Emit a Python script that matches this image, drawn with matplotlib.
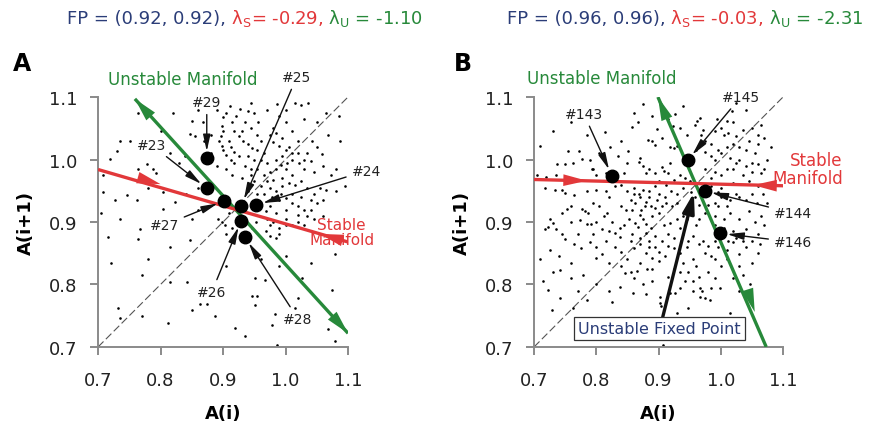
import matplotlib
matplotlib.use("Agg")
import matplotlib.pyplot as plt
import numpy as np

NAVY = "#2b3d78"
RED = "#e2383a"
GREEN = "#27893a"

# ---- panel A data -------------------------------------------------------
a_cloud = [
    (0.764, 1.074), (0.730, 1.014), (0.751, 1.030), (0.735, 1.030), (0.719, 1.001),
    (0.764, 0.985), (0.778, 0.993), (0.788, 0.985), (0.792, 0.978), (0.850, 1.062),
    (0.847, 1.041), (0.855, 1.038), (0.839, 1.006), (0.800, 1.045), (0.820, 1.075),
    (0.708, 0.975),
    (0.911, 1.086), (0.900, 1.068), (0.927, 1.081), (0.940, 1.078), (0.950, 1.074),
    (0.956, 1.060), (0.898, 1.054), (0.900, 1.046), (0.896, 1.038), (0.894, 1.030),
    (0.898, 1.022), (0.900, 1.016), (0.905, 1.008), (0.912, 1.000), (0.918, 0.994),
    (0.930, 1.046), (0.932, 1.030), (0.940, 1.025), (0.946, 1.018), (0.910, 1.030),
    (0.913, 1.020), (0.918, 1.012), (0.925, 1.005), (0.935, 0.990), (0.945, 0.985),
    (0.905, 0.985), (0.890, 0.990), (0.915, 0.975), (0.930, 0.970), (0.950, 0.965),
    (0.880, 1.040), (0.870, 1.030),
    (0.986, 1.089), (1.015, 1.090), (1.025, 1.088), (1.036, 1.090), (0.980, 1.050),
    (0.975, 1.040), (0.985, 1.042), (0.980, 1.028), (0.995, 1.035), (0.990, 1.022),
    (1.000, 1.015), (1.005, 1.020), (0.995, 1.005), (0.985, 1.000), (1.010, 1.000),
    (1.020, 1.010), (1.020, 1.030), (1.030, 1.000), (1.040, 0.998), (1.030, 0.985),
    (1.045, 0.980), (1.000, 0.985), (0.975, 0.980), (0.965, 0.975), (0.980, 0.968),
    (0.995, 0.970), (1.010, 0.975), (1.068, 1.040), (1.087, 1.030), (1.058, 1.009),
    (1.050, 1.060), (1.065, 1.075), (0.960, 1.000), (0.965, 1.010), (0.970, 0.995),
    (1.015, 0.960), (0.955, 0.985),
    (0.975, 0.955), (0.985, 0.950), (0.993, 0.945), (0.978, 0.940), (0.990, 0.935),
    (1.000, 0.938), (1.010, 0.930), (1.020, 0.925), (1.030, 0.920), (1.000, 0.920),
    (0.985, 0.915), (1.020, 0.912), (0.970, 0.905), (0.975, 0.895), (0.990, 0.890),
    (1.000, 0.895), (1.040, 0.920), (1.050, 0.930), (1.055, 0.955), (1.065, 0.952),
    (1.080, 0.950), (1.095, 0.958), (1.045, 0.905), (0.968, 0.885), (0.975, 0.878),
    (0.985, 0.875), (0.990, 0.880), (1.060, 0.910), (1.079, 0.849), (1.030, 0.895),
    (0.960, 0.930), (0.965, 0.945),
    (0.892, 0.905), (0.898, 0.900), (0.903, 0.895), (0.910, 0.915), (0.945, 0.960),
    (0.940, 0.950), (0.955, 0.945), (0.952, 0.900), (0.947, 0.890), (0.915, 0.890),
    (0.905, 0.880),
    (0.708, 0.948), (0.727, 0.935), (0.746, 0.943), (0.762, 0.935), (0.804, 0.948),
    (0.823, 0.932), (0.804, 0.921), (0.767, 0.889), (0.764, 0.873), (0.716, 0.876),
    (0.815, 0.860), (0.847, 0.871), (0.780, 0.841), (0.850, 0.905), (0.860, 0.920),
    (0.735, 0.905), (0.705, 0.915),
    (0.732, 0.762), (0.735, 0.746), (0.770, 0.750), (0.812, 0.738), (0.815, 0.804),
    (0.842, 0.804), (0.850, 0.759), (0.863, 0.769), (0.874, 0.769), (0.887, 0.750),
    (0.919, 0.730), (0.935, 0.718), (0.951, 0.810), (0.946, 0.782), (0.954, 0.782),
    (0.951, 0.767), (0.967, 0.807), (0.983, 0.753), (0.978, 0.735), (0.986, 0.703),
    (1.015, 0.762), (1.020, 0.778), (1.026, 0.810), (1.074, 0.791), (1.068, 0.729),
    (1.079, 0.710), (0.990, 0.830), (1.000, 0.845), (1.040, 0.835), (0.960, 0.840),
    (0.905, 0.830), (0.720, 0.835), (0.770, 0.815),
    (0.915, 1.060), (0.905, 1.075), (0.920, 1.070), (0.935, 1.060), (0.945, 1.050),
    (0.955, 1.040), (0.960, 1.030), (0.925, 1.038), (0.918, 1.045), (0.940, 1.005),
    (0.950, 1.000), (0.955, 1.015), (0.945, 0.975), (0.960, 0.958), (0.970, 0.965),
    (0.985, 0.985), (0.992, 0.992), (1.002, 0.995), (1.010, 1.010), (1.022, 0.995),
    (1.035, 1.010), (1.042, 1.030), (1.050, 1.020), (1.010, 1.045), (1.000, 1.060),
    (0.990, 1.070), (1.030, 1.065), (1.060, 0.990), (1.072, 0.975), (1.080, 0.985),
    (1.005, 0.962), (1.025, 0.965), (1.035, 0.955), (1.045, 0.945), (0.995, 0.958),
    (1.010, 0.945), (1.025, 0.940), (1.040, 0.935), (1.060, 0.935), (1.000, 0.905),
    (1.010, 0.895), (1.020, 0.900), (1.035, 0.910), (0.980, 0.900), (0.968, 0.918),
    (0.975, 0.925), (0.880, 1.010), (0.868, 1.060), (0.860, 1.080), (0.890, 1.080),
    (0.945, 1.090), (0.970, 1.080), (1.000, 1.080), (1.085, 1.070), (0.830, 0.995),
    (0.815, 1.010), (0.780, 0.955), (0.860, 0.955), (0.840, 0.945),
]
a_beat_labels = ["#23", "#24", "#25", "#26", "#27", "#28", "#29"]
a_beat_x = [0.874, 0.953, 0.929, 0.929, 0.902, 0.935, 0.874]
a_beat_y = [0.954, 0.927, 0.926, 0.902, 0.934, 0.876, 1.002]
a_label_x = [0.786, 1.129, 1.018, 0.882, 0.806, 1.020, 0.874]
a_label_y = [1.023, 0.982, 1.132, 0.788, 0.895, 0.745, 1.092]
a_unstable_x, a_unstable_y = [0.759, 1.100], [1.097, 0.722]
a_stable_x, a_stable_y = [0.700, 1.100], [0.984, 0.868]

# ---- panel B data -------------------------------------------------------
b_cloud = [
    (0.875, 1.089), (0.867, 1.060), (0.857, 1.052), (0.814, 1.044), (0.897, 1.049),
    (0.926, 1.073), (0.923, 1.054), (0.994, 1.065), (1.010, 1.062), (1.020, 1.060),
    (1.018, 1.078), (0.958, 1.055), (0.962, 1.062), (0.966, 1.066), (1.025, 1.090),
    (1.050, 1.050), (1.060, 1.040), (0.940, 1.085), (0.905, 1.035), (0.883, 1.032),
    (0.890, 1.030), (0.894, 1.024), (0.785, 1.040), (1.040, 1.080),
    (0.710, 1.022), (0.755, 1.014), (0.772, 1.014), (0.777, 1.001), (0.737, 0.993),
    (0.750, 0.993), (0.763, 0.995), (0.793, 0.985), (0.851, 1.014), (0.918, 1.020),
    (0.925, 1.018), (0.930, 1.022), (0.870, 1.002), (0.868, 0.996), (0.875, 0.990),
    (0.885, 0.985), (0.905, 0.988), (0.908, 0.982), (0.915, 0.978), (0.895, 0.978),
    (0.880, 0.978), (0.918, 0.995), (0.945, 0.995), (0.955, 1.000), (0.960, 1.015),
    (0.968, 1.040), (0.972, 1.048), (0.975, 1.012), (0.985, 1.005), (0.990, 1.000),
    (0.995, 1.015), (1.000, 1.010), (1.015, 1.003), (1.025, 0.995), (1.030, 1.000),
    (1.040, 1.015), (1.045, 1.030), (1.055, 1.010), (1.050, 0.995), (1.060, 0.993),
    (1.065, 0.978), (1.070, 0.985), (1.075, 1.000), (1.020, 0.985), (0.990, 0.980),
    (0.975, 0.985), (0.845, 0.978), (0.830, 0.978), (0.815, 0.978), (0.800, 0.975),
    (0.795, 0.985), (0.735, 0.975), (0.720, 0.972), (0.705, 0.975), (0.850, 0.995),
    (0.835, 1.005), (1.080, 1.020), (1.005, 1.040), (1.035, 1.048),
    (0.734, 0.952), (0.745, 0.952), (0.750, 0.946), (0.765, 0.944), (0.785, 0.950),
    (0.800, 0.952), (0.815, 0.950), (0.830, 0.957), (0.840, 0.960), (0.860, 0.955),
    (0.868, 0.945), (0.875, 0.952), (0.885, 0.950), (0.895, 0.958), (0.900, 0.945),
    (0.910, 0.940), (0.920, 0.950), (0.930, 0.945), (0.940, 0.955), (0.950, 0.965),
    (0.985, 0.958), (1.000, 0.955), (1.020, 0.962), (1.045, 0.965), (1.060, 0.958),
    (1.080, 0.962), (1.000, 0.940), (1.015, 0.935), (1.030, 0.940), (1.050, 0.945),
    (0.990, 0.930), (0.855, 0.935), (0.880, 0.932), (0.820, 0.940),
    (0.726, 0.905), (0.730, 0.898), (0.722, 0.892), (0.718, 0.888), (0.735, 0.888),
    (0.753, 0.921), (0.777, 0.921), (0.782, 0.918), (0.787, 0.915), (0.774, 0.903),
    (0.785, 0.897), (0.792, 0.897), (0.812, 0.910), (0.818, 0.915), (0.840, 0.925),
    (0.845, 0.895), (0.838, 0.890), (0.830, 0.882), (0.838, 0.876), (0.820, 0.885),
    (0.810, 0.888), (0.862, 0.930), (0.858, 0.920), (0.872, 0.920), (0.870, 0.912),
    (0.878, 0.925), (0.888, 0.925), (0.895, 0.922), (0.900, 0.915), (0.890, 0.910),
    (0.875, 0.905), (0.880, 0.896), (0.888, 0.890), (0.862, 0.898), (0.867, 0.892),
    (0.880, 0.882), (0.895, 0.878), (0.908, 0.895), (0.918, 0.898), (0.930, 0.905),
    (0.940, 0.910), (0.935, 0.890), (0.945, 0.905), (0.965, 0.928), (0.980, 0.928),
    (0.995, 0.925), (1.010, 0.925), (0.975, 0.915), (0.990, 0.910), (1.005, 0.905),
    (1.015, 0.915), (1.030, 0.905), (1.045, 0.918), (1.055, 0.900), (1.065, 0.910),
    (0.990, 0.895), (1.005, 0.890), (1.020, 0.885), (1.040, 0.888), (1.060, 0.880),
    (0.750, 0.872), (0.765, 0.865), (0.775, 0.858), (0.790, 0.868), (0.800, 0.860),
    (0.815, 0.870), (0.830, 0.860), (0.840, 0.852), (0.855, 0.870), (0.860, 0.858),
    (0.870, 0.865), (0.885, 0.870), (0.895, 0.860), (0.905, 0.870), (0.915, 0.862),
    (0.925, 0.858), (0.880, 0.850), (0.890, 0.842), (0.900, 0.838), (0.910, 0.845),
    (0.935, 0.850), (0.945, 0.860), (0.955, 0.840), (0.965, 0.865), (0.975, 0.850),
    (0.985, 0.845), (0.995, 0.860), (1.010, 0.855), (1.020, 0.868), (1.030, 0.848),
    (1.040, 0.860), (1.050, 0.835), (0.800, 0.842), (0.820, 0.835), (0.760, 0.835),
    (0.740, 0.845), (0.710, 0.840), (0.725, 0.855),
    (0.742, 0.823), (0.779, 0.815), (0.722, 0.791), (0.742, 0.778), (0.729, 0.759),
    (0.763, 0.762), (0.825, 0.772), (0.838, 0.796), (0.846, 0.818), (0.855, 0.820),
    (0.866, 0.822), (0.881, 0.825), (0.859, 0.786), (0.902, 0.780), (0.902, 0.770),
    (0.904, 0.765), (0.918, 0.786), (0.926, 0.786), (0.935, 0.820), (0.948, 0.820),
    (0.943, 0.805), (0.955, 0.805), (0.965, 0.812), (0.967, 0.795), (0.970, 0.790),
    (0.967, 0.780), (0.975, 0.778), (0.983, 0.775), (0.990, 0.810), (0.980, 0.820),
    (0.930, 0.754), (0.947, 0.762), (1.015, 0.754), (0.999, 0.794), (1.047, 0.800),
    (1.047, 0.790), (1.047, 0.780), (0.907, 0.703), (0.800, 0.800), (0.770, 0.790),
    (1.000, 0.830), (1.020, 0.810),
    (0.900, 0.965), (0.912, 0.960), (0.925, 0.968), (0.935, 0.975), (0.943, 0.970),
    (0.952, 0.948), (0.958, 0.940), (0.930, 0.930), (0.922, 0.925), (0.912, 0.930),
    (0.905, 0.925), (0.898, 0.935), (0.885, 0.940), (0.870, 0.940), (0.860, 0.945),
    (0.850, 0.950), (0.848, 0.920), (0.852, 0.905), (0.858, 0.880), (0.870, 0.875),
    (0.885, 0.860), (0.900, 0.852), (0.915, 0.880), (0.925, 0.875), (0.940, 0.880),
    (0.948, 0.870), (0.955, 0.878), (0.960, 0.895), (0.965, 0.905), (0.972, 0.870),
    (0.980, 0.862), (0.990, 0.870), (1.000, 0.875), (1.012, 0.870), (1.025, 0.875),
    (1.035, 0.870), (1.050, 0.870), (1.063, 0.865), (1.070, 0.895), (1.075, 0.930),
    (1.068, 0.945), (1.058, 0.930), (1.040, 0.935), (1.025, 0.945), (1.010, 0.945),
    (0.995, 0.948), (0.980, 0.945), (0.970, 0.955), (0.985, 0.970), (1.000, 0.975),
    (1.010, 0.985), (1.035, 0.975), (1.050, 0.980), (1.040, 0.990), (1.010, 1.020),
    (1.020, 1.025), (1.030, 1.020), (0.985, 1.025), (0.975, 1.030), (0.990, 1.045),
    (1.000, 1.050), (1.012, 1.042), (1.025, 1.038), (1.060, 1.025), (1.070, 1.035),
    (1.065, 1.055), (0.945, 1.040), (0.935, 1.050), (0.915, 1.065), (0.905, 1.080),
    (0.890, 1.070), (0.860, 1.075), (0.840, 1.030), (0.822, 1.020), (0.805, 1.010),
    (0.790, 1.000), (0.760, 1.060), (0.730, 1.045), (0.718, 0.955), (0.760, 0.925),
    (0.745, 0.915), (0.795, 0.930), (0.805, 0.925), (0.825, 0.900), (0.800, 0.900),
    (0.760, 0.900), (0.745, 0.880), (0.770, 0.880), (0.795, 0.880), (0.810, 0.848),
    (0.850, 0.840), (0.870, 0.835), (0.860, 0.810), (0.875, 0.800), (0.890, 0.805),
    (0.915, 0.812), (0.925, 0.825), (0.940, 0.835), (0.960, 0.830), (0.990, 0.840),
    (1.010, 0.840), (1.030, 0.830), (1.035, 0.815), (1.060, 0.850), (0.890, 0.825),
    (0.760, 0.810), (0.785, 0.775), (0.820, 0.790), (0.840, 0.830), (0.730, 0.820),
    (0.715, 0.805), (0.880, 0.785), (0.935, 0.795), (0.955, 0.790), (0.985, 0.795),
    (1.030, 0.790),
]
b_beat_labels = ["#143", "#144", "#145", "#146"]
b_beat_x = [0.825, 0.974, 0.947, 0.999]
b_beat_y = [0.974, 0.950, 0.999, 0.882]
b_label_x = [0.780, 1.116, 1.032, 1.116]
b_label_y = [1.073, 0.914, 1.100, 0.868]
b_unstable_x, b_unstable_y = [0.899, 1.073], [1.100, 0.700]
b_stable_x, b_stable_y = [0.700, 1.100], [0.968, 0.958]
b_fixed_point = (0.960, 0.960)

ticks = [0.7, 0.8, 0.9, 1.0, 1.1]


def head(ax, tail, tip, color, scale=10):
    ax.annotate("", xy=tip, xytext=tail,
                arrowprops=dict(arrowstyle="-|>,head_length=1.7,head_width=0.42",
                                color=color, lw=0, mutation_scale=scale,
                                shrinkA=0, shrinkB=0), zorder=4)


def setup_axes(ax):
    ax.set_xlim(0.7, 1.1)
    ax.set_ylim(0.7, 1.1)
    ax.set_xticks(ticks)
    ax.set_yticks(ticks)
    ax.set_xticklabels([f"{t:.1f}" for t in ticks])
    ax.set_yticklabels([f"{t:.1f}" for t in ticks])
    for side in ["top", "right"]:
        ax.spines[side].set_visible(False)
    for side in ["left", "bottom"]:
        ax.spines[side].set_color("#8a8a8a")
        ax.spines[side].set_linewidth(1.4)
    ax.tick_params(direction="out", length=6, width=1.4, color="#8a8a8a",
                   labelsize=13, labelcolor="#222222")
    ax.tick_params(axis="x", pad=11)
    ax.tick_params(axis="y", pad=9)
    ax.set_xlabel("A(i)", fontsize=13, fontweight="bold", labelpad=11)
    ax.set_ylabel("A(i+1)", fontsize=13, fontweight="bold", labelpad=10)
    ax.plot([0.7, 1.1], [0.7, 1.1], color="#555555", lw=0.8,
            dashes=(7, 3), zorder=1)


def beat_labels(ax, labels, bx, by, lx, ly):
    ax.plot(bx, by, "o", color="black", ms=9, zorder=5)
    for lab, x, y, tx, ty in zip(labels, bx, by, lx, ly):
        ax.annotate(lab, xy=(x, y), xytext=(tx, ty), fontsize=10,
                    ha="center", va="center", color="#222222",
                    arrowprops=dict(arrowstyle="-|>,head_length=1.0,head_width=0.22",
                                    color="#111111", lw=1.0, mutation_scale=10,
                                    shrinkA=2, shrinkB=5),
                    zorder=6, annotation_clip=False)


def title_line(fig, x, y, parts, size=13):
    r = fig.canvas.get_renderer()
    for s, c in parts:
        t = fig.text(x, y, s, color=c, fontsize=size, va="baseline", ha="left")
        x += t.get_window_extent(r).width / fig.bbox.width


fig = plt.figure(figsize=(8.72, 4.31), dpi=100)
axA = fig.add_axes([0.1124, 0.1926, 0.2867, 0.58])
axB = fig.add_axes([0.6124, 0.1926, 0.2856, 0.58])

# panel A
setup_axes(axA)
ca = np.array(a_cloud)
axA.scatter(ca[:, 0], ca[:, 1], s=3.5, color="black", marker="o", lw=0, zorder=2)
axA.plot(a_unstable_x, a_unstable_y, color=GREEN, lw=2.4, zorder=3,
         solid_capstyle="butt")
axA.plot(a_stable_x, a_stable_y, color=RED, lw=2.4, zorder=3,
         solid_capstyle="butt")
head(axA, (0.785, 1.068), (a_unstable_x[0], a_unstable_y[0]), GREEN)
head(axA, (1.074, 0.751), (a_unstable_x[1], a_unstable_y[1]), GREEN)
head(axA, (0.760, 0.972), (0.800, 0.9606), RED)
head(axA, (1.095, 0.8695), (1.055, 0.881), RED)
beat_labels(axA, a_beat_labels, a_beat_x, a_beat_y, a_label_x, a_label_y)
axA.text(0.836, 1.129, "Unstable Manifold", color=GREEN, fontsize=12,
         ha="center", va="center")
axA.text(1.09, 0.884, "Stable\nManifold", color=RED, fontsize=11,
         ha="center", va="center", linespacing=1.0)

# panel B
setup_axes(axB)
cb = np.array(b_cloud)
axB.scatter(cb[:, 0], cb[:, 1], s=3.5, color="black", marker="o", lw=0, zorder=2)
axB.plot(b_unstable_x, b_unstable_y, color=GREEN, lw=2.4, zorder=3,
         solid_capstyle="butt")
axB.plot(b_stable_x, b_stable_y, color=RED, lw=2.4, zorder=3,
         solid_capstyle="butt")
head(axB, (0.913, 1.066), (b_unstable_x[0], b_unstable_y[0]), GREEN)
head(axB, (1.043, 0.792), (1.0545, 0.756), GREEN)
head(axB, (0.745, 0.967), (0.785, 0.966), RED)
head(axB, (1.093, 0.958), (1.052, 0.959), RED)
beat_labels(axB, b_beat_labels, b_beat_x, b_beat_y, b_label_x, b_label_y)
axB.annotate("Unstable Fixed Point", xy=b_fixed_point, xytext=(0.902, 0.729),
             fontsize=11.5, color=NAVY, ha="center", va="center",
             bbox=dict(boxstyle="square,pad=0.25", fc="white", ec="#333333", lw=0.9),
             arrowprops=dict(arrowstyle="-|>,head_length=1.2,head_width=0.35",
                             color="#111111", lw=2.4, mutation_scale=10,
                             shrinkA=0, shrinkB=6),
             zorder=6)
axB.text(0.808, 1.130, "Unstable Manifold", color=GREEN, fontsize=12,
         ha="center", va="center")
axB.text(1.196, 0.985, "Stable\nManifold", color=RED, fontsize=12,
         ha="right", va="center", linespacing=1.0, multialignment="right")

# headers and panel letters
title_line(fig, 0.077, 0.945, [("FP = (0.92, 0.92),", NAVY),
                                (r" $\mathrm{\lambda_S}$= -0.29,", RED),
                                (r" $\mathrm{\lambda_U}$ = -1.10", GREEN)])
title_line(fig, 0.581, 0.945, [("FP = (0.96, 0.96),", NAVY),
                                (r" $\mathrm{\lambda_S}$= -0.03,", RED),
                                (r" $\mathrm{\lambda_U}$ = -2.31", GREEN)])
fig.text(0.015, 0.835, "A", fontsize=17, fontweight="bold")
fig.text(0.52, 0.835, "B", fontsize=17, fontweight="bold")

fig.savefig("out.png", dpi=100)
